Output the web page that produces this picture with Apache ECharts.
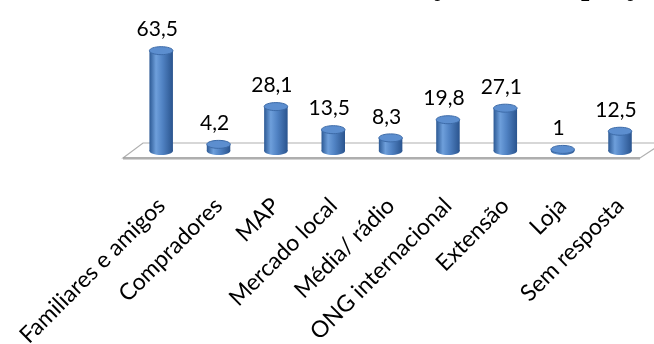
<!DOCTYPE html>
<html>
<head>
<meta charset="utf-8">
<script src="https://cdn.jsdelivr.net/npm/echarts@6/dist/echarts.min.js"></script>
<style>
  html, body { margin: 0; padding: 0; background: #fff; }
  #chart { width: 654px; height: 344px; }
</style>
</head>
<body>
<div id="chart"></div>
<script>
// Sources of price information (percent of respondents)
const categories = ['Familiares e amigos', 'Compradores', 'MAP', 'Mercado local', 'Média/ rádio',
                    'ONG internacional', 'Extensão', 'Loja', 'Sem resposta'];
const values = [63.5, 4.2, 28.1, 13.5, 8.3, 19.8, 27.1, 1, 12.5];
const titleText = 'Gráfico 3: Fontes de informação sobre o preço';

const chart = echarts.init(document.getElementById('chart'), null, { renderer: 'canvas' });

// decimal comma, as in the Portuguese labels
function fmt(v) { return String(v).replace('.', ','); }

function bodyGradient() {
  return new echarts.graphic.LinearGradient(0, 0, 1, 0, [
    { offset: 0, color: '#2c5994' },
    { offset: 0.28, color: '#6e9fdb' },
    { offset: 0.55, color: '#5183c4' },
    { offset: 1, color: '#2a548e' }
  ]);
}

// one cylinder per category, with its value printed above
function renderCylinder(params, api) {
  const idx = api.value(0);
  const v = api.value(1);
  const base = api.coord([idx, 0]);
  const top = api.coord([idx, v]);
  const band = api.size([1, 0])[0];
  const w = band * 0.41;
  const rx = w / 2, ry = 4;
  const cx = base[0];
  const grad = bodyGradient();
  return {
    type: 'group',
    children: [
      { type: 'ellipse', shape: { cx: cx, cy: base[1], rx: rx, ry: ry }, style: { fill: grad } },
      { type: 'rect', shape: { x: cx - rx, y: top[1], width: w, height: Math.max(0, base[1] - top[1]) }, style: { fill: grad } },
      { type: 'ellipse', shape: { cx: cx, cy: top[1], rx: rx, ry: ry },
        style: { fill: '#5c8ecf', stroke: '#3d6ba8', lineWidth: 1 } },
      { type: 'text', x: cx - 4, y: top[1] - ry - 17,
        style: { text: fmt(v), font: '21px Lato', fill: '#000', textAlign: 'center', textVerticalAlign: 'middle' } }
    ]
  };
}

// slanted floor under the bars, derived from the grid rectangle
function renderFloor(params, api) {
  const cs = params.coordSys;
  const b = cs.y + cs.height;
  const x0 = cs.x, x1 = cs.x + cs.width;
  return {
    type: 'group',
    children: [
      { type: 'polygon',
        shape: { points: [[x0 - 9.5, b + 7], [x0 + 10.5, b - 8], [x1 + 14, b - 8], [x1 - 8.7, b + 7]] },
        style: { fill: '#ffffff', stroke: '#b0b0b0', lineWidth: 1.2 } },
      { type: 'line', shape: { x1: x0 - 9.5, y1: b + 8.2, x2: x1 - 8.7, y2: b + 8.2 },
        style: { stroke: '#d4d4d4', lineWidth: 1.5 } },
      { type: 'line', shape: { x1: x0 - 9.5, y1: b + 7, x2: x1 - 8.7, y2: b + 7 },
        style: { stroke: '#a0a0a0', lineWidth: 1.5 } }
    ]
  };
}

chart.setOption({
  animation: false,
  backgroundColor: '#ffffff',
  graphic: [{
    type: 'text', x: 652, y: -12.5,
    style: { text: titleText, font: 'bold 30px "Liberation Serif"', fill: '#000',
             textAlign: 'right', textVerticalAlign: 'middle' }
  }],
  grid: { left: 132.5, right: 5.3, top: 40.4, bottom: 193, containLabel: false, outerBoundsMode: 'none' },
  xAxis: {
    type: 'category',
    data: categories,
    axisLine: { show: false },
    axisTick: { show: false },
    axisLabel: { interval: 0, rotate: 45, margin: 51, fontFamily: 'Lato', fontSize: 23, color: '#000' }
  },
  yAxis: { type: 'value', min: 0, max: 70, show: false },
  series: [
    { type: 'custom', z: 1, renderItem: renderFloor, data: [[0, 0]], silent: true },
    { type: 'custom', z: 2, renderItem: renderCylinder,
      data: values.map((v, i) => [i, v]), encode: { x: 0, y: 1 } }
  ]
});
</script>
</body>
</html>
